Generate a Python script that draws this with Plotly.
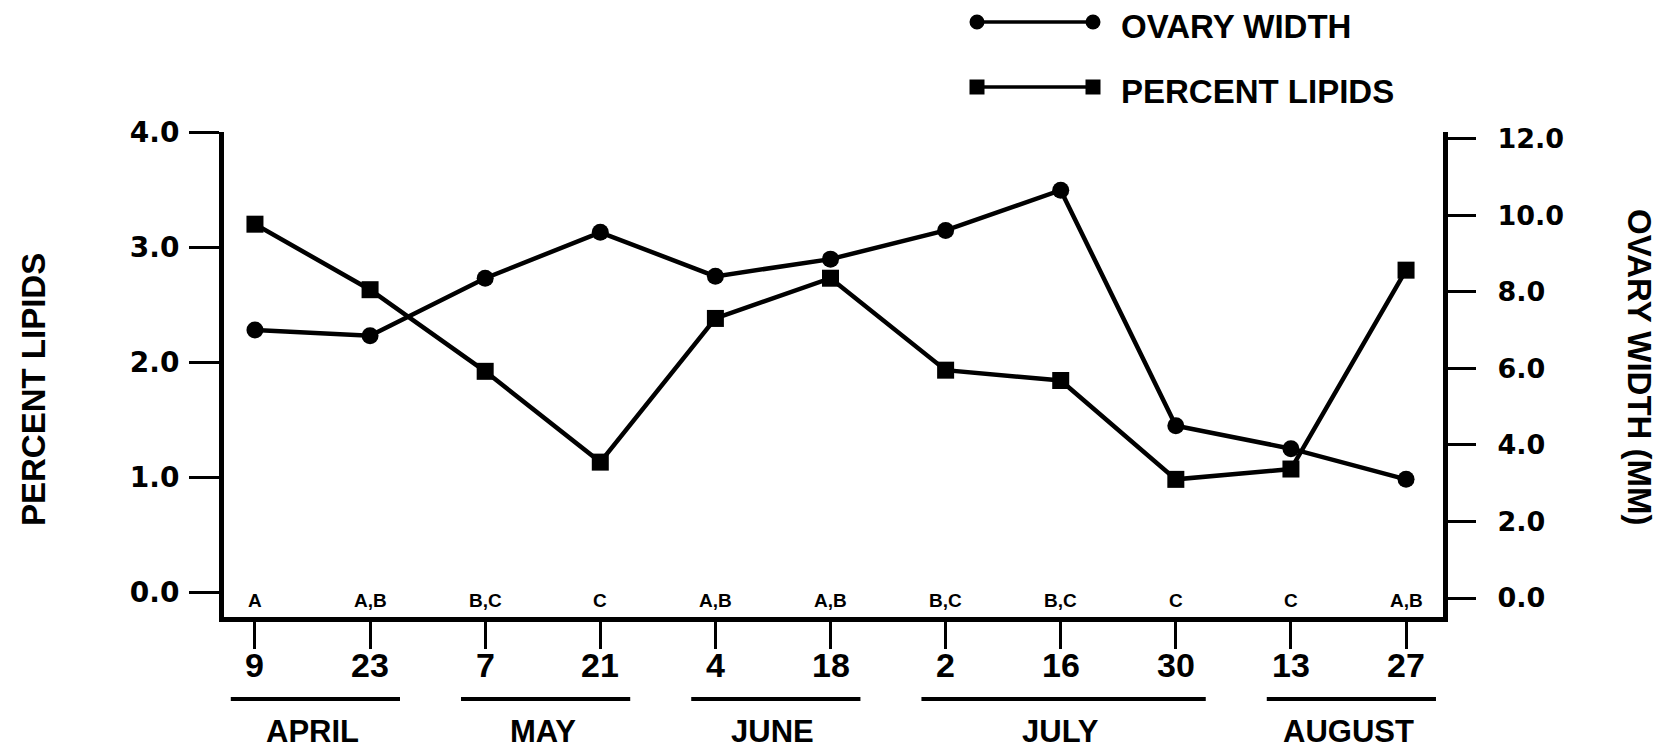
import plotly.graph_objects as go

# Sampling dates (bi-weekly), grouped by month
dates = ["9", "23", "7", "21", "4", "18", "2", "16", "30", "13", "27"]
months = ["APRIL", "MAY", "JUNE", "JULY", "AUGUST"]
month_first = [0, 2, 4, 6, 9]
month_last = [1, 3, 5, 8, 10]

# Measured series
ovary_width = [7.0, 6.85, 8.35, 9.55, 8.4, 8.85, 9.6, 10.65, 4.5, 3.9, 3.1]      # mm, right axis
percent_lipids = [3.20, 2.63, 1.92, 1.13, 2.38, 2.73, 1.93, 1.84, 0.98, 1.07, 2.80]  # %, left axis

# Significance groupings for each date
groups = ["A", "A,B", "B,C", "C", "A,B", "A,B", "B,C", "B,C", "C", "C", "A,B"]

lipid_ticks = [0, 1, 2, 3, 4]
ovary_ticks = [0, 2, 4, 6, 8, 10, 12]

# ---- layout geometry (pixels) ----
W, H = 1661, 752
PL, PR, PT, PB = 224, 1443, 132, 617


def px_x(x):
    return (x - PL) / (PR - PL)


def px_y(y):
    return (PB - y) / (PB - PT)


x_idx = list(range(len(dates)))
BOLD = dict(family="Liberation Sans", color="black", weight="bold")
TICKF = dict(family="DejaVu Sans", color="black", weight="bold")

fig = go.Figure()

fig.add_trace(go.Scatter(
    x=x_idx, y=percent_lipids, yaxis="y", mode="lines+markers",
    line=dict(color="black", width=4.5),
    marker=dict(symbol="square", size=17, color="black"),
    name="PERCENT LIPIDS", showlegend=False, cliponaxis=False,
))
fig.add_trace(go.Scatter(
    x=x_idx, y=ovary_width, yaxis="y2", mode="lines+markers",
    line=dict(color="black", width=4.5),
    marker=dict(symbol="circle", size=17, color="black"),
    name="OVARY WIDTH", showlegend=False, cliponaxis=False,
))

shapes = []
annotations = []

# date labels under the ticks
for i, d in enumerate(dates):
    annotations.append(dict(text=d, xref="x", yref="paper", x=i, y=px_y(665),
                            showarrow=False, xanchor="center", yanchor="middle",
                            font=dict(size=34, **BOLD)))

# month underlines and names
for name, a, b in zip(months, month_first, month_last):
    shapes.append(dict(type="line", xref="x", yref="paper",
                       x0=a - 0.21, x1=b + 0.26, y0=px_y(699), y1=px_y(699),
                       line=dict(color="black", width=4)))
    annotations.append(dict(text=name, xref="x", yref="paper",
                            x=(a + b) / 2, y=px_y(731), showarrow=False,
                            xanchor="center", yanchor="middle",
                            font=dict(size=31, **BOLD)))

# grouping letters just above the date axis
for i, g in enumerate(groups):
    annotations.append(dict(text=g, xref="x", yref="paper", x=i, y=px_y(600),
                            showarrow=False, xanchor="center", yanchor="middle",
                            font=dict(size=19, **BOLD)))

# axis titles
annotations.append(dict(text="PERCENT LIPIDS", xref="paper", yref="paper",
                        x=px_x(33), y=px_y(390), textangle=-90, showarrow=False,
                        xanchor="center", yanchor="middle",
                        font=dict(size=33, **BOLD)))
annotations.append(dict(text="OVARY WIDTH (MM)", xref="paper", yref="paper",
                        x=px_x(1640), y=px_y(368), textangle=90, showarrow=False,
                        xanchor="center", yanchor="middle",
                        font=dict(size=33, **BOLD)))

# legend keys
for yk, label, sym in [(22, "OVARY WIDTH", "circle"), (87, "PERCENT LIPIDS", "square")]:
    shapes.append(dict(type="line", xref="paper", yref="paper",
                       x0=px_x(977), x1=px_x(1093), y0=px_y(yk), y1=px_y(yk),
                       line=dict(color="black", width=3.5)))
    for cx in (977, 1093):
        r = 7.5
        shapes.append(dict(type="circle" if sym == "circle" else "rect",
                           xref="paper", yref="paper",
                           x0=px_x(cx - r), x1=px_x(cx + r),
                           y0=px_y(yk + r), y1=px_y(yk - r),
                           fillcolor="black", line=dict(color="black", width=0)))
    annotations.append(dict(text=label, xref="paper", yref="paper",
                            x=px_x(1119), y=px_y(yk + 4), showarrow=False,
                            xanchor="left", yanchor="middle",
                            font=dict(size=33, **BOLD)))

fig.update_layout(
    width=W, height=H,
    margin=dict(l=PL, r=W - PR, t=PT, b=H - PB),
    paper_bgcolor="white", plot_bgcolor="white",
    showlegend=False,
    xaxis=dict(
        range=[-0.269, 10.321], tickvals=x_idx, showticklabels=False,
        showgrid=False, zeroline=False,
        showline=True, linewidth=5, linecolor="black",
        ticks="outside", ticklen=27, tickwidth=3, tickcolor="black",
        fixedrange=True,
    ),
    yaxis=dict(
        range=[-0.2174, 4.002], tickvals=lipid_ticks, tickformat=".1f",
        showgrid=False, zeroline=False,
        showline=True, linewidth=5, linecolor="black",
        ticks="outside", ticklen=30, tickwidth=3, tickcolor="black",
        tickfont=dict(size=28, **TICKF), ticklabelstandoff=4,
    ),
    yaxis2=dict(
        range=[-0.496, 12.17], tickvals=ovary_ticks, tickformat=".1f",
        overlaying="y", side="right",
        showgrid=False, zeroline=False,
        showline=True, linewidth=5, linecolor="black",
        ticks="outside", ticklen=28, tickwidth=3, tickcolor="black",
        tickfont=dict(size=27, **TICKF), ticklabelstandoff=16,
    ),
    shapes=shapes,
    annotations=annotations,
)

fig.write_html("out.html")
